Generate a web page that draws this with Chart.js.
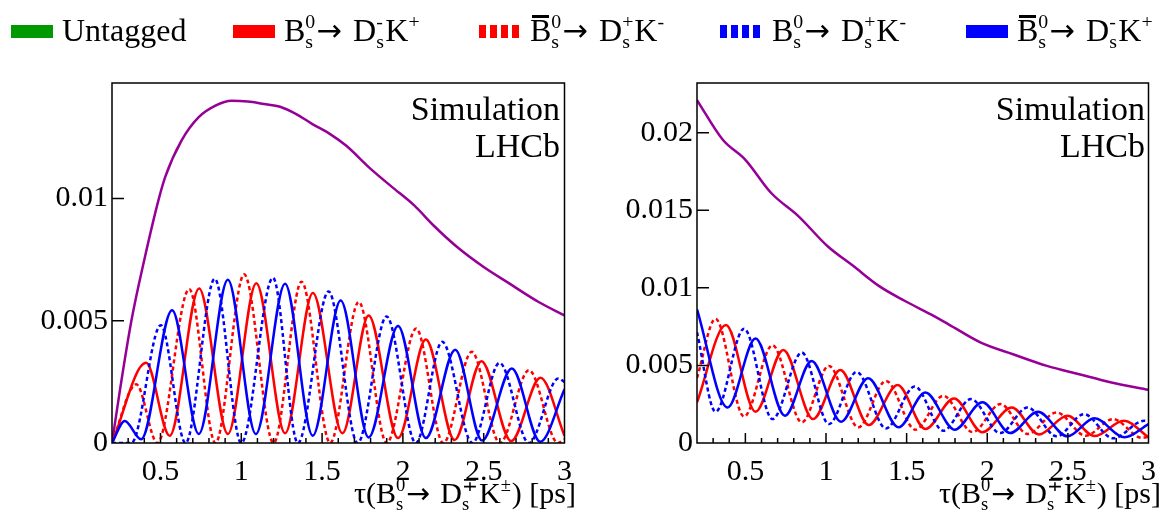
<!DOCTYPE html>
<html>
<head>
<meta charset="utf-8">
<script src="https://cdn.jsdelivr.net/npm/chart.js@4.4.1/dist/chart.umd.min.js"></script>
<style>
  body { margin: 0; background: #fff; }
  #page { position: relative; width: 1167px; height: 513px; overflow: hidden;
          font-family: "Liberation Serif", "Times New Roman", serif; color: #000; }
  canvas { position: absolute; top: 0; }
  .sw { position: absolute; top: 25px; width: 42px; height: 13px; }
  .lt { position: absolute; top: 14px; font-size: 32px; line-height: 1; white-space: nowrap; }
  .xt { position: absolute; top: 478px; font-size: 30px; line-height: 1; white-space: nowrap; }
  .tag { position: absolute; top: 90px; font-size: 34px; line-height: 37px; text-align: right; }
  .ss { display: inline-block; position: relative; height: 0; font-size: 0.62em; margin-right: 0.06em; }
  .ss .sp { position: absolute; left: 0; bottom: 0.44em; line-height: 1; white-space: nowrap; }
  .ss .sb { position: absolute; left: 0; top: -0.44em; line-height: 1; white-space: nowrap; }
  .arr { font-family: "DejaVu Sans", sans-serif; font-size: 0.95em; margin-right: 0.1em; }
  .bar { position: relative; }
  .bar::before { content: ""; position: absolute; left: 0.06em; right: 0.06em; top: 0.1em;
                 height: 0.09em; background: #000; }
</style>
</head>
<body>
<div id="page">
  <canvas id="left" width="583" height="513" style="left:0"></canvas>
  <canvas id="right" width="584" height="513" style="left:583px"></canvas>
</div>
<script>
// axis ticks
const xTicks = [0.5, 1, 1.5, 2, 2.5, 3];
const yTicksLeft = [0, 0.005, 0.01];
const yTicksRight = [0, 0.005, 0.01, 0.015, 0.02];
const yMaxLeft = 0.01473;
const yMaxRight = 0.0232;

// left panel (with acceptance)
const tL_un = [0.2, 0.25, 0.32, 0.40, 0.49, 0.53, 0.63, 0.735, 0.84, 0.94, 1.04, 1.14, 1.24, 1.34, 1.44, 1.55, 1.65, 1.79, 1.93, 2.07, 2.19, 2.33, 2.5, 2.66, 2.84, 3.0];
const yL_un = [0, 0.0022, 0.0050, 0.0075, 0.0100, 0.0109, 0.01237, 0.01332, 0.0138, 0.0140, 0.01397, 0.01387, 0.01376, 0.01346, 0.01305, 0.01264, 0.01216, 0.01128, 0.01049, 0.00972, 0.0089, 0.00805, 0.0072, 0.00652, 0.00577, 0.00522];

const tL_rs = [0.2, 0.411, 0.557, 0.739, 0.917, 1.093, 1.271, 1.443, 1.626, 1.788, 1.97, 2.142, 2.32, 2.486, 2.67, 2.851, 3.0];
const yL_rs = [0, 0.00328, 0.0003, 0.00632, 0.00037, 0.00654, 0.0004, 0.00614, 0.0004, 0.00522, 0.0002, 0.00423, 0.00012, 0.00335, 0.00008, 0.00267, 0.0003];

const tL_rd = [0.2, 0.35, 0.481, 0.678, 0.84, 1.018, 1.2, 1.373, 1.55, 1.727, 1.9, 2.082, 2.25, 2.426, 2.6, 2.78, 2.96, 3.0];
const yL_rd = [0, 0.0024, 0, 0.0063, 0, 0.0069, 0, 0.0066, 0, 0.00577, 0, 0.00468, 0, 0.00373, 0, 0.00298, 0, 0.00015];

const tL_bs = [0.2, 0.279, 0.38, 0.572, 0.737, 0.917, 1.09, 1.271, 1.442, 1.615, 1.788, 1.97, 2.142, 2.324, 2.49, 2.674, 2.85, 3.0];
const yL_bs = [0, 0.0009, 0.00015, 0.00543, 0.00037, 0.00668, 0.00037, 0.00652, 0.0003, 0.00583, 0.00023, 0.00479, 0.0002, 0.00382, 0.0001, 0.00305, 0.00005, 0.0022];

const tL_bd = [0.2, 0.32, 0.502, 0.655, 0.836, 1.0, 1.196, 1.35, 1.54, 1.72, 1.899, 2.08, 2.243, 2.43, 2.598, 2.78, 2.962, 3.0];
const yL_bd = [0, 0, 0.00482, 0, 0.00672, 0, 0.00676, 0, 0.0062, 0, 0.00518, 0, 0.00414, 0, 0.00328, 0, 0.00264, 0.0025];

// right panel (no acceptance)
const tR_un = [0.2, 0.36, 0.50, 0.66, 0.83, 1.01, 1.17, 1.33, 1.49, 1.67, 1.76, 1.96, 2.16, 2.37, 2.57, 2.77, 3.0];
const yR_un = [0.0221, 0.01954, 0.01825, 0.01611, 0.01461, 0.01268, 0.0114, 0.01011, 0.00915, 0.00818, 0.00765, 0.00647, 0.00572, 0.00497, 0.00443, 0.0039, 0.00343];

const tR_rs = [0.2, 0.38, 0.563, 0.735, 0.92, 1.089, 1.265, 1.444, 1.616, 1.794, 1.97, 2.152, 2.32, 2.497, 2.665, 2.847, 3.0];
const yR_rs = [0.00262, 0.0076, 0.00201, 0.006, 0.00154, 0.00471, 0.00116, 0.00373, 0.0009, 0.00287, 0.0007, 0.00229, 0.00055, 0.00176, 0.00045, 0.00143, 0.00037];

const tR_rd = [0.2, 0.315, 0.492, 0.668, 0.85, 1.018, 1.2, 1.372, 1.555, 1.727, 1.909, 2.082, 2.25, 2.43, 2.61, 2.78, 2.96, 3.0];
const yR_rd = [0.0042, 0.008, 0.00171, 0.0063, 0.00133, 0.00497, 0.00101, 0.004, 0.00086, 0.00304, 0.0007, 0.00251, 0.00058, 0.00197, 0.00047, 0.00154, 0.00033, 0.0004];

const tR_bs = [0.2, 0.39, 0.563, 0.745, 0.911, 1.093, 1.261, 1.45, 1.616, 1.798, 1.97, 2.142, 2.314, 2.497, 2.665, 2.851, 3.0];
const yR_bs = [0.00861, 0.00229, 0.00673, 0.00176, 0.00529, 0.00137, 0.00418, 0.00101, 0.00326, 0.00086, 0.00262, 0.00064, 0.00201, 0.00043, 0.00159, 0.00037, 0.00122];

const tR_bd = [0.2, 0.315, 0.492, 0.668, 0.85, 1.018, 1.19, 1.372, 1.55, 1.727, 1.899, 2.08, 2.25, 2.43, 2.6, 2.78, 2.972, 3.0];
const yR_bd = [0.00713, 0.00201, 0.00737, 0.00154, 0.00583, 0.00122, 0.00458, 0.00094, 0.00364, 0.00079, 0.00283, 0.00064, 0.00229, 0.00043, 0.00186, 0.0003, 0.00143, 0.0014];

// legend
const legendNames = ['Untagged', 'B_{s}^{0}→ D_{s}^{-}K^{+}', '#bar{B}_{s}^{0}→ D_{s}^{+}K^{-}', 'B_{s}^{0}→ D_{s}^{+}K^{-}', '#bar{B}_{s}^{0}→ D_{s}^{-}K^{+}'];
const xTitle = 'τ(B_{s}^{0}→ D_{s}^{∓}K^{±}) [ps]';

const RED = '#ff0000', BLUE = '#0000ff', PURPLE = '#960096', GREEN = '#009900';
const FONT = '"Liberation Serif", "Times New Roman", serif';

// tiny ROOT-latex to html: x_{a}^{b} stacked, #bar{X}
function tex(s) {
  let out = '', i = 0;
  while (i < s.length) {
    if (s.startsWith('#bar{', i)) {
      const end = s.indexOf('}', i);
      out += '<span class="bar">' + s.slice(i + 5, end) + '</span>';
      i = end + 1;
    } else if (s[i] === '_' || s[i] === '^') {
      let sub = '', sup = '';
      while (i < s.length && (s[i] === '_' || s[i] === '^')) {
        const end = s.indexOf('}', i);
        if (s[i] === '_') sub = s.slice(i + 2, end); else sup = s.slice(i + 2, end);
        i = end + 1;
      }
      out += '<span class="ss"><span class="sp">' + sup + '</span><span class="sb">' + sub + '</span></span>';
    } else if (s[i] === '→') {
      out += '<span class="arr">→</span>';
      i++;
    } else {
      out += s[i];
      i++;
    }
  }
  return out;
}

const page = document.getElementById('page');
function addDiv(cls, html, style) {
  const d = document.createElement('div');
  d.className = cls;
  d.innerHTML = html;
  Object.assign(d.style, style);
  page.appendChild(d);
}

const legendColors = [GREEN, RED, RED, BLUE, BLUE];
const legendDashed = [false, false, true, true, false];
const legendPos = [[11, 62], [233, 284], [479, 530], [720, 772], [966, 1017]];
legendNames.forEach((name, i) => {
  const c = legendColors[i];
  addDiv('sw', '', {
    left: legendPos[i][0] + 'px',
    background: legendDashed[i] ? `repeating-linear-gradient(90deg, ${c} 0 7px, transparent 7px 11px)` : c
  });
  addDiv('lt', tex(name), { left: legendPos[i][1] + 'px' });
});

addDiv('xt', tex(xTitle), { right: '591px' });
addDiv('xt', tex(xTitle), { right: '6px' });
addDiv('tag', 'Simulation<br>LHCb', { right: '607px' });
addDiv('tag', 'Simulation<br>LHCb', { right: '22px' });

// give each sub/sup stack the width of its wider part
document.querySelectorAll('.ss').forEach(el => {
  const w = Math.max(...Array.from(el.children).map(c => c.offsetWidth));
  el.style.width = w + 'px';
});

const fmt = v => String(parseFloat(Number(v).toFixed(4)));

function curve(ts, ys, color, dashed) {
  return {
    data: ts.map((t, i) => ({ x: t, y: ys[i] })),
    borderColor: color,
    borderWidth: 2.5,
    borderDash: dashed ? [4, 3] : [],
    pointRadius: 0,
    cubicInterpolationMode: 'monotone',
    fill: false
  };
}

// frame + inward ticks like ROOT
const framePlugin = {
  id: 'frame',
  afterDatasetsDraw(chart) {
    const { ctx, chartArea: a, scales: { x, y } } = chart;
    ctx.save();
    ctx.strokeStyle = '#000';
    ctx.lineWidth = 1.5;
    ctx.beginPath();
    ctx.rect(a.left, a.top, a.right - a.left, a.bottom - a.top);
    for (let k = 3; k < 30; k++) {
      if (k % 5 === 0) continue;
      const px = x.getPixelForValue(k / 10);
      ctx.moveTo(px, a.bottom);
      ctx.lineTo(px, a.bottom - 5);
    }
    xTicks.forEach(v => {
      const px = x.getPixelForValue(v);
      ctx.moveTo(px, a.bottom);
      ctx.lineTo(px, a.bottom - 10);
    });
    y.ticks.forEach(t => {
      const py = y.getPixelForValue(t.value);
      ctx.moveTo(a.left, py);
      ctx.lineTo(a.left + 12, py);
    });
    ctx.stroke();
    ctx.restore();
  }
};

function makeChart(id, padRight, yWidth, yMax, yTicks, datasets) {
  new Chart(document.getElementById(id), {
    type: 'line',
    data: { datasets: datasets },
    options: {
      responsive: false,
      animation: false,
      layout: { padding: { top: 83, right: padRight, left: 0, bottom: 0 } },
      plugins: { legend: { display: false }, tooltip: { enabled: false } },
      scales: {
        x: {
          type: 'linear', min: 0.2, max: 3,
          grid: { display: false, drawTicks: false },
          border: { display: false },
          afterBuildTicks: s => { s.ticks = xTicks.map(v => ({ value: v })); },
          afterFit: s => { s.height = 70; },
          ticks: { padding: 11, color: '#000', font: { family: FONT, size: 30 },
                   autoSkip: false, maxRotation: 0, callback: fmt }
        },
        y: {
          min: 0, max: yMax,
          grid: { display: false, drawTicks: false },
          border: { display: false },
          afterBuildTicks: s => { s.ticks = yTicks.map(v => ({ value: v })); },
          afterFit: s => { s.width = yWidth; },
          ticks: { padding: 4, color: '#000', font: { family: FONT, size: 30 }, callback: fmt }
        }
      }
    },
    plugins: [framePlugin]
  });
}

makeChart('left', 10, 112, yMaxLeft, yTicksLeft, [
  curve(tL_bs, yL_bs, BLUE, false),
  curve(tL_bd, yL_bd, BLUE, true),
  curve(tL_rd, yL_rd, RED, true),
  curve(tL_rs, yL_rs, RED, false),
  curve(tL_un, yL_un, PURPLE, false)
]);

makeChart('right', 9, 114, yMaxRight, yTicksRight, [
  curve(tR_bs, yR_bs, BLUE, false),
  curve(tR_bd, yR_bd, BLUE, true),
  curve(tR_rd, yR_rd, RED, true),
  curve(tR_rs, yR_rs, RED, false),
  curve(tR_un, yR_un, PURPLE, false)
]);
</script>
</body>
</html>
